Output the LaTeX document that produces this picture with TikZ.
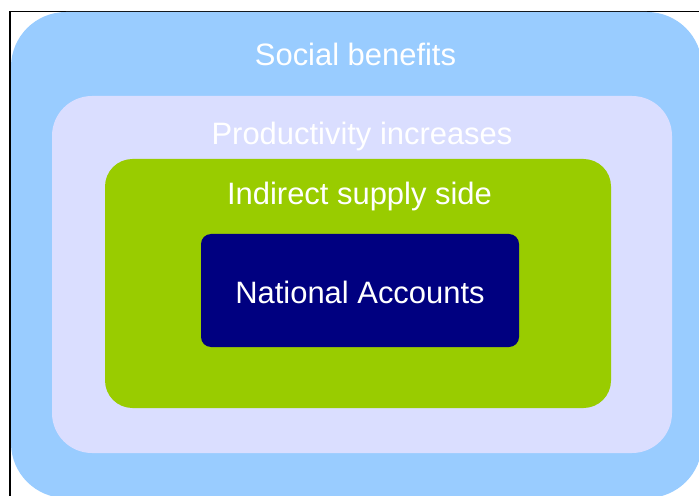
\documentclass[tikz,border=0pt]{standalone}
\usepackage{fontspec}
\setmainfont{Liberation Sans}
\definecolor{skyblue}{HTML}{99CCFF}
\definecolor{lavender}{HTML}{DADEFF}
\definecolor{limegreen}{HTML}{99CC00}
\definecolor{navyblue}{HTML}{000080}
\tikzset{label text/.style={white, anchor=base, font=\fontsize{17.6}{21}\selectfont}}

\begin{document}
\begin{tikzpicture}
	\useasboundingbox (0,0) rectangle (13.98,9.9);
	\clip (0,0) rectangle (13.98,9.9);
	\draw[line width=1pt] (0.2,-0.5) |- (14.5,9.67);
	
	\fill[skyblue, rounded corners=1.1cm] (0.22,-0.06) rectangle (14.04,9.66);
	\fill[lavender, rounded corners=0.8cm] (1.04,0.84) rectangle (13.44,7.98);
	\fill[limegreen, rounded corners=0.55cm] (2.1,1.74) rectangle (12.22,6.72);
	\fill[navyblue, rounded corners=0.2cm] (4.02,2.96) rectangle (10.38,5.22);
	
	\node[label text] (social) at (7.11,8.58) {Social benefits};
	\node[label text] (productivity) at (7.24,7.0) {Productivity increases};
	\node[label text] (indirect) at (7.19,5.81) {Indirect supply side};
	\node[label text] (national) at (7.2,3.83) {National Accounts};
\end{tikzpicture}
\end{document}
